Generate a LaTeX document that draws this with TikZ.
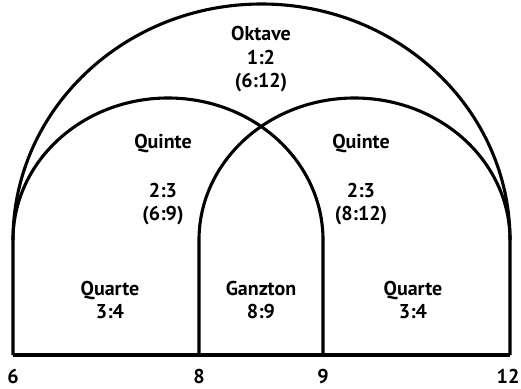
\documentclass[tikz,border=0pt]{standalone}
\usepackage{fontspec}
\setmainfont{PT Sans}
\begin{document}
\begin{tikzpicture}[x=1pt,y=-1pt,
  curve/.style={line width=3.1pt},
  lbl/.style={font=\fontsize{20}{24}\selectfont\bfseries, anchor=base, inner sep=0pt},
  tick/.style={font=\fontsize{20}{24}\selectfont\bfseries, anchor=base, inner sep=0pt}]
\useasboundingbox (0,0) rectangle (521,388);
% corner coordinates
\coordinate (b6) at (13,355);
\coordinate (b8) at (199,355);
\coordinate (b9) at (323,355);
\coordinate (b12) at (510,355);
\coordinate (t6) at (13,240);
\coordinate (t8) at (199,240);
\coordinate (t9) at (323,240);
\coordinate (t12) at (510,240);
% baseline
\draw[curve] (b6) -- (b12);
% octave
\draw[curve] (b6) -- (t6) arc[start angle=180,end angle=360,x radius=248.5,y radius=236] -- (b12);
% left fifth
\draw[curve] (t6) arc[start angle=180,end angle=360,x radius=155,y radius=142] -- (b9);
% right fifth
\draw[curve] (b8) -- (t8) arc[start angle=180,end angle=360,x radius=155.5,y radius=142];
% texts
\node[lbl] (okt) at (261,40) {Oktave};
\node[lbl] (okt2) at (261,64) {1:2};
\node[lbl] (okt3) at (261,87) {(6:12)};
\node[lbl] (ql) at (163,148) {Quinte};
\node[lbl] (ql2) at (163,197) {2:3};
\node[lbl] (ql3) at (163,220) {(6:9)};
\node[lbl] (qr) at (361,148) {Quinte};
\node[lbl] (qr2) at (361,197) {2:3};
\node[lbl] (qr3) at (361,220) {(8:12)};
\node[lbl] (qal) at (110,295) {Quarte};
\node[lbl] (qal2) at (110,318) {3:4};
\node[lbl] (gz) at (261,295) {Ganzton};
\node[lbl] (gz2) at (261,318) {8:9};
\node[lbl] (qar) at (413,295) {Quarte};
\node[lbl] (qar2) at (413,318) {3:4};
\node[tick] (n6) at (13,383) {6};
\node[tick] (n8) at (199,383) {8};
\node[tick] (n9) at (323,383) {9};
\node[tick] (n12) at (508,383) {12};
\end{tikzpicture}
\end{document}
